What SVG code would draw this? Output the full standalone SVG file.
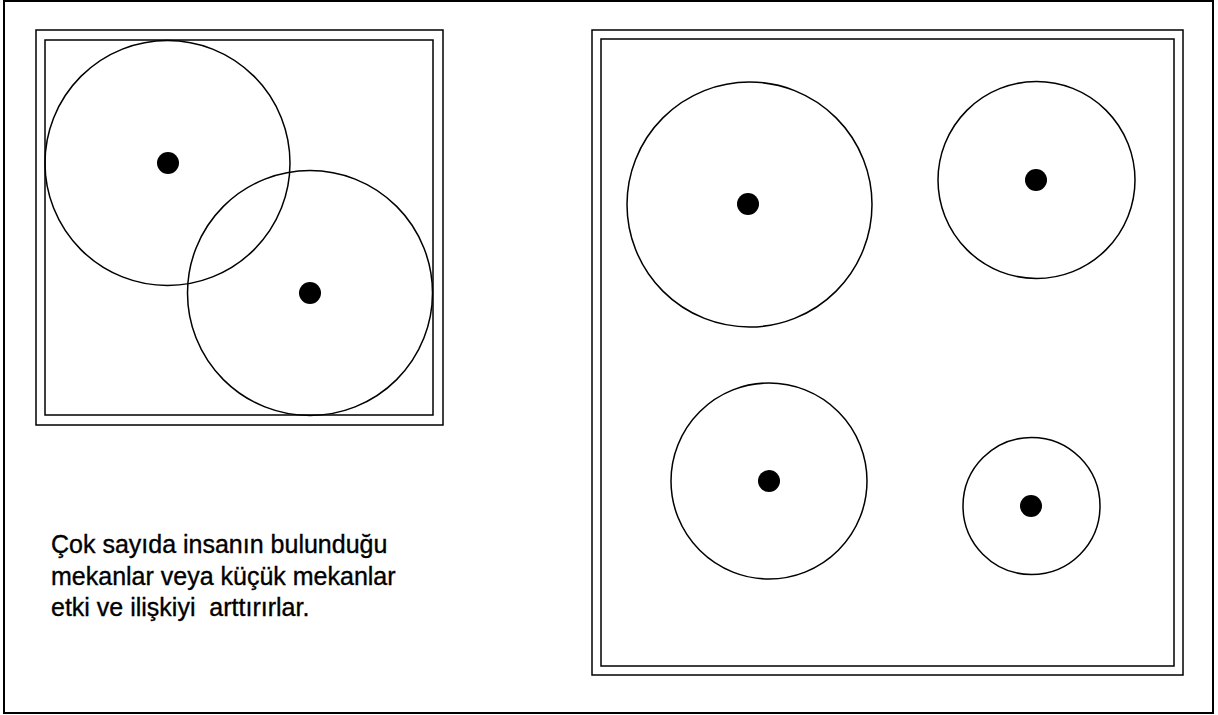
<svg xmlns="http://www.w3.org/2000/svg" width="1218" height="715" viewBox="0 0 1218 715">
<style>
.ln{fill:none;stroke:#000;stroke-width:1.5}
.bd{fill:none;stroke:#000;stroke-width:2}
.dot{fill:#000}
.tx{font-family:"Liberation Sans",Arial,sans-serif;font-size:25px;fill:#000;stroke:#000;stroke-width:0.35;white-space:pre}
</style>
<rect x="0" y="0" width="1218" height="715" fill="#fff"/>
<rect class="bd" x="4" y="1" width="1209" height="712"/>
<g id="left-room">
<rect class="ln" x="36" y="30" width="407" height="395"/>
<rect class="ln" x="45" y="40" width="388" height="375"/>
</g>
<g id="left-circle-1">
<circle class="ln" cx="167.5" cy="163" r="122.5"/>
<circle class="dot" cx="168" cy="163" r="11"/>
</g>
<g id="left-circle-2">
<circle class="ln" cx="310" cy="293" r="122.5"/>
<circle class="dot" cx="310" cy="293" r="11"/>
</g>
<g id="right-room">
<rect class="ln" x="592" y="30" width="591" height="645"/>
<rect class="ln" x="601" y="39" width="573" height="627"/>
</g>
<g id="right-circle-1">
<circle class="ln" cx="749.5" cy="204.5" r="122.5"/>
<circle class="dot" cx="748" cy="204" r="11"/>
</g>
<g id="right-circle-2">
<circle class="ln" cx="1036.5" cy="180" r="98.5"/>
<circle class="dot" cx="1036" cy="180" r="11"/>
</g>
<g id="right-circle-3">
<circle class="ln" cx="769" cy="481" r="98"/>
<circle class="dot" cx="769" cy="481" r="11"/>
</g>
<g id="right-circle-4">
<circle class="ln" cx="1031.5" cy="506" r="68.5"/>
<circle class="dot" cx="1031" cy="506" r="11"/>
</g>
<g id="caption">
<text class="tx" x="51" y="553" xml:space="preserve">Çok sayıda insanın bulunduğu</text>
<text class="tx" x="51" y="585" xml:space="preserve">mekanlar veya küçük mekanlar</text>
<text class="tx" x="51" y="616" xml:space="preserve">etki ve ilişkiyi  arttırırlar.</text>
</g>
<g id="connectors"></g>
</svg>
